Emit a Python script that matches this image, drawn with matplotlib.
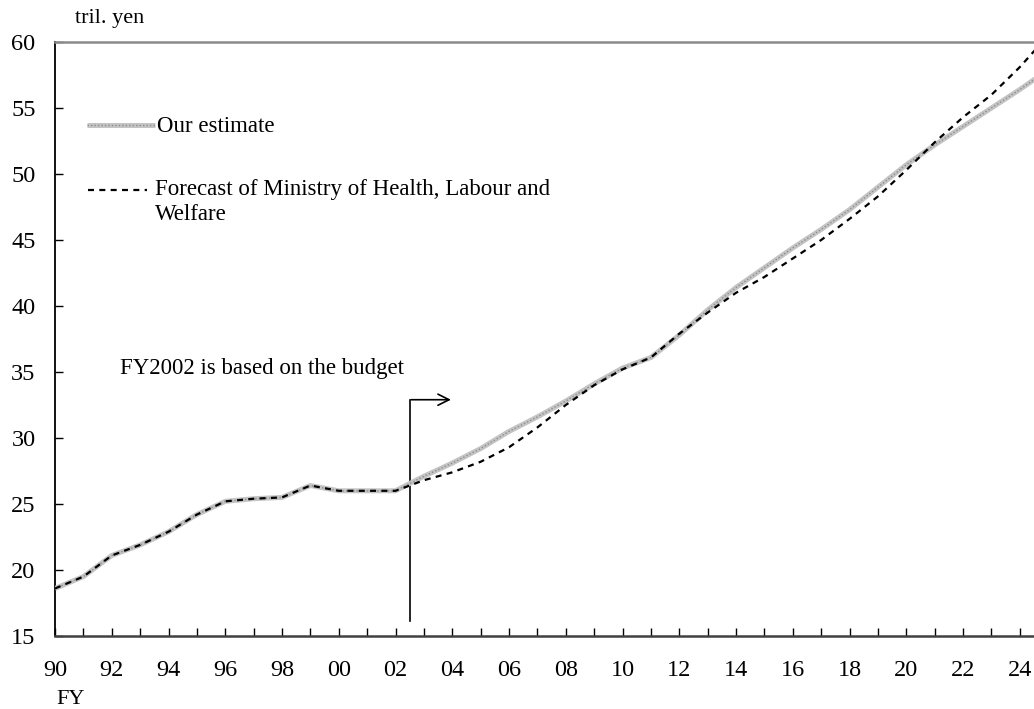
import matplotlib
matplotlib.use("Agg")
import matplotlib.pyplot as plt
import numpy as np

years = list(range(1990, 2026))
our_estimate = [18.6, 19.5, 21.1, 21.9, 22.9, 24.2, 25.2, 25.4, 25.5, 26.4,
                26.0, 26.0, 26.0, 27.1, 28.1, 29.2, 30.5, 31.6, 32.8, 34.1,
                35.3, 36.1, 37.8, 39.7, 41.4, 42.9, 44.4, 45.8, 47.3, 49.0,
                50.7, 52.2, 53.6, 55.0, 56.4, 57.9]
mhlw_forecast = [18.6, 19.5, 21.1, 21.9, 22.9, 24.2, 25.2, 25.4, 25.5, 26.4,
                 26.0, 26.0, 26.0, 26.8, 27.4, 28.2, 29.3, 30.8, 32.5, 34.0,
                 35.2, 36.1, 37.9, 39.5, 41.0, 42.2, 43.6, 45.0, 46.6, 48.3,
                 50.3, 52.4, 54.3, 56.0, 58.1, 60.5]
xtick_labels = ["90", "92", "94", "96", "98", "00", "02", "04", "06", "08",
                "10", "12", "14", "16", "18", "20", "22", "24"]
yticks = [15, 20, 25, 30, 35, 40, 45, 50, 55, 60]

plt.rcParams['font.family'] = ['Liberation Serif', 'DejaVu Serif']

fig = plt.figure(figsize=(10.34, 7.09), dpi=100)
ax = fig.add_axes([55/1034, 1-636/709, 1-55/1034, (636-42)/709])

# gray textured line
ax.plot(years, our_estimate, color='#c4c4c4', lw=3.6, solid_capstyle='butt', zorder=3)
ax.plot(years, our_estimate, color='#8c8c8c', lw=1.0, linestyle=(0, (1, 1.5)), zorder=3)
# dashed forecast
ax.plot(years, mhlw_forecast, color='black', lw=1.6, linestyle=(0, (2.7, 2.4)), zorder=4)

ax.set_xlim(1990, 2024.5)
ax.set_ylim(15, 60)
ax.set_yticks(yticks)
ax.set_yticklabels([str(v) for v in yticks], fontsize=17.5)
ax.set_xticks(years[:-1])
even = iter(xtick_labels)
labels = [next(even) if y % 2 == 0 else "" for y in years[:-1]]
ax.set_xticklabels(labels, fontsize=17.5)
ax.tick_params(axis='y', direction='in', length=6, width=1, pad=14)
ax.tick_params(axis='x', direction='in', length=6, width=1, pad=17)

ax.spines['right'].set_visible(False)
ax.spines['left'].set_color('black')
ax.spines['left'].set_linewidth(1.3)
ax.spines['bottom'].set_color('#404040')
ax.spines['bottom'].set_linewidth(1.8)
ax.spines['top'].set_color('#8a8a8a')
ax.spines['top'].set_linewidth(1.8)

# legend drawn manually in axes coordinates
def px2ax(x, y):
    return ((x - 55) / (1034 - 55), (636 - y) / (636 - 42))

x0, y0 = px2ax(87, 125)
x1, _ = px2ax(155, 125)
ax.plot([x0, x1], [y0, y0], transform=ax.transAxes, color='#c4c4c4', lw=3.6, solid_capstyle='butt')
ax.plot([x0, x1], [y0, y0], transform=ax.transAxes, color='#8c8c8c', lw=1.0, linestyle=(0, (1, 1.5)))
tx, _ = px2ax(157, 126)
ax.text(tx, px2ax(157, 126)[1], "Our estimate", transform=ax.transAxes, fontsize=16.5, va='center', ha='left')

x0, y1 = px2ax(88, 190)
x1, _ = px2ax(147, 190)
ax.plot([x0, x1], [y1, y1], transform=ax.transAxes, color='black', lw=1.6, linestyle=(0, (2.7, 2.4)))
tx, _ = px2ax(155, 190)
ax.text(tx, y1, "Forecast of Ministry of Health, Labour and", transform=ax.transAxes,
        fontsize=16.5, va='center', ha='left')
_, y2 = px2ax(155, 215)
ax.text(tx, y2, "Welfare", transform=ax.transAxes, fontsize=16.5, va='center', ha='left')

# annotation
ax.text(2002.3, 35.3, "FY2002 is based on the budget", fontsize=16.5, ha='right', va='center')
ax.plot([2002.5, 2002.5], [16.1, 32.9], color='black', lw=1.2)
ax.annotate("", xy=(2004.05, 32.9), xytext=(2002.45, 32.9),
            arrowprops=dict(arrowstyle='->', color='black', lw=1.2, mutation_scale=20))

fig.text(110/1034, 1-18/709, "tril. yen", fontsize=16, ha='center', va='center')
fig.text(71/1034, 1-699/709, "FY", fontsize=16, ha='center', va='center')

fig.savefig("out.png", dpi=100)
